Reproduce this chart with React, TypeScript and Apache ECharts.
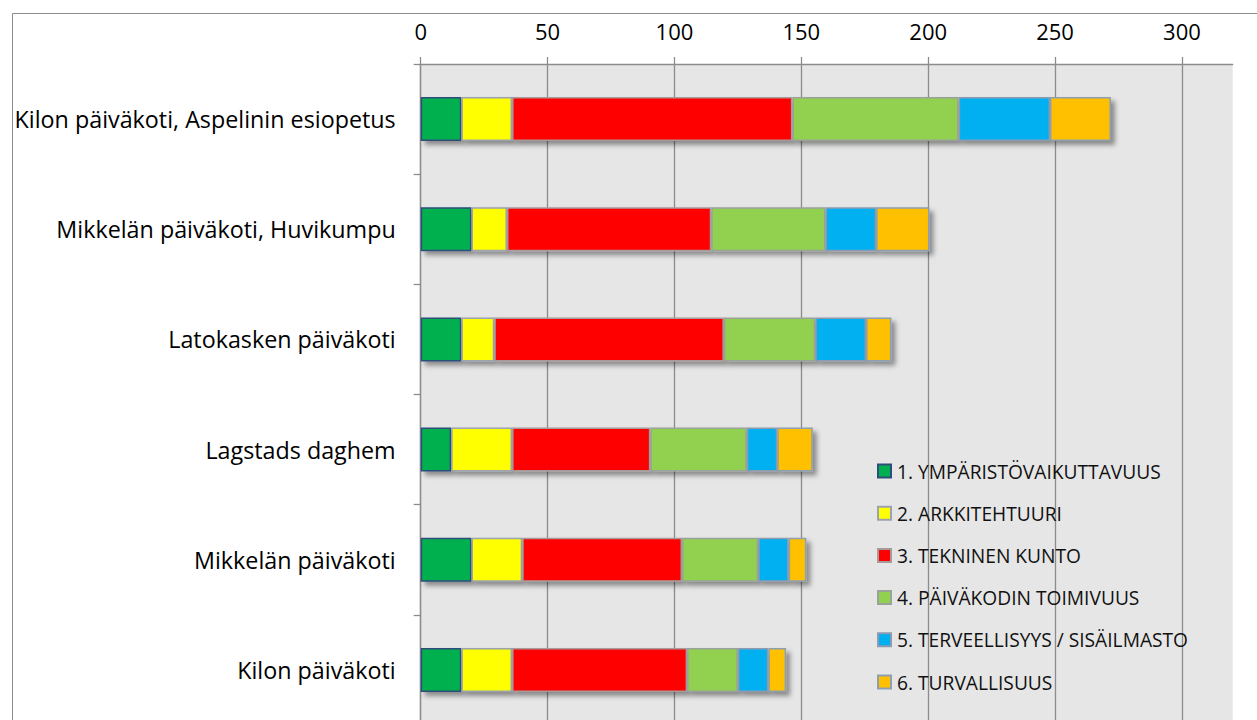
import React, { useEffect, useRef } from "react";
import * as echarts from "echarts";

const categories = [
  "Kilon päiväkoti, Aspelinin esiopetus",
  "Mikkelän päiväkoti, Huvikumpu",
  "Latokasken päiväkoti",
  "Lagstads daghem",
  "Mikkelän päiväkoti",
  "Kilon päiväkoti",
];

const seriesNames = [
  "1. YMPÄRISTÖVAIKUTTAVUUS",
  "2. ARKKITEHTUURI",
  "3. TEKNINEN KUNTO",
  "4. PÄIVÄKODIN TOIMIVUUS",
  "5. TERVEELLISYYS / SISÄILMASTO",
  "6. TURVALLISUUS",
];

const ymparisto = [16, 20, 16, 12, 20, 16];
const arkkitehtuuri = [20, 14, 13, 24, 20, 20];
const tekninen = [110.5, 80.5, 90.5, 54.5, 63, 69];
const toimivuus = [65.5, 45, 36, 38, 30, 20];
const terveellisyys = [36, 20, 20, 12, 12, 12];
const turvallisuus = [24, 21, 10, 14, 7, 7];

const tickValues = [0, 50, 100, 150, 200, 250, 300];

const colors = ["#00B050", "#FFFF00", "#FF0000", "#92D050", "#00B0F0", "#FFC000"];
const borders = ["#2E4E7A", "#9AA3AE", "#A89A9A", "#9AA39A", "#8E9AB0", "#8EA0B0"];

export default function App() {
  const ref = useRef<HTMLDivElement>(null);
  useEffect(() => {
    if (!ref.current) return;
    const chart = echarts.init(ref.current, undefined, { renderer: "svg" });
    const data = [ymparisto, arkkitehtuuri, tekninen, toimivuus, terveellisyys, turvallisuus];
    const font = "'Open Sans', sans-serif";
    chart.setOption({
      animation: false,
      backgroundColor: "#ffffff",
      textStyle: { fontFamily: font },
      grid: {
        left: 420.7,
        top: 64,
        width: 812,
        height: 661,
        show: true,
        backgroundColor: "#E6E6E6",
        borderWidth: 0,
      },
      graphic: [
        {
          type: "rect",
          left: 10,
          top: 11,
          shape: { x: 0, y: 0, width: 1260, height: 760 },
          style: { fill: "none", stroke: "#8C8C8C", lineWidth: 1 },
          silent: true,
          z: 100,
        },
      ],
      legend: {
        orient: "vertical",
        left: 872,
        top: 456,
        itemWidth: 13,
        itemHeight: 13,
        itemGap: 22.2,
        icon: "rect",
        textStyle: { fontSize: 19.2, color: "#111", lineHeight: 20, fontFamily: font, padding: [0, 0, 0, 1] },
        data: seriesNames,
      },
      xAxis: {
        type: "value",
        position: "top",
        min: 0,
        max: 320,
        interval: 50,
        axisLine: { show: true, lineStyle: { color: "#8C8C8C", width: 1.3 } },
        axisTick: {
          show: true,
          length: 7,
          customValues: tickValues,
          lineStyle: { color: "#8C8C8C", width: 1.3 },
        },
        axisLabel: {
          customValues: tickValues,
          fontSize: 22,
          color: "#000",
          margin: 22,
          fontFamily: font,
        },
        splitLine: { show: true, lineStyle: { color: "#8C8C8C", width: 1.3 } },
      },
      yAxis: {
        type: "category",
        inverse: true,
        data: categories,
        axisLine: { show: true, lineStyle: { color: "#8C8C8C", width: 1.3 } },
        axisTick: { show: true, length: 7, lineStyle: { color: "#8C8C8C", width: 1.3 } },
        axisLabel: { fontSize: 23.3, color: "#000", margin: 25, fontFamily: font },
      },
      series: seriesNames.map((name, i) => ({
        name,
        type: "bar",
        stack: "total",
        barWidth: "40%",
        data: data[i],
        itemStyle: {
          color: colors[i],
          borderColor: borders[i],
          borderWidth: 1.5,
          shadowBlur: 5,
          shadowOffsetX: 4,
          shadowOffsetY: 4,
          shadowColor: "rgba(0,0,0,0.4)",
        },
        emphasis: { disabled: true },
      })),
    });
    return () => chart.dispose();
  }, []);
  return (
    <div
      ref={ref}
      style={{ position: "fixed", left: 0, top: 0, width: 1257, height: 740 }}
    />
  );
}
